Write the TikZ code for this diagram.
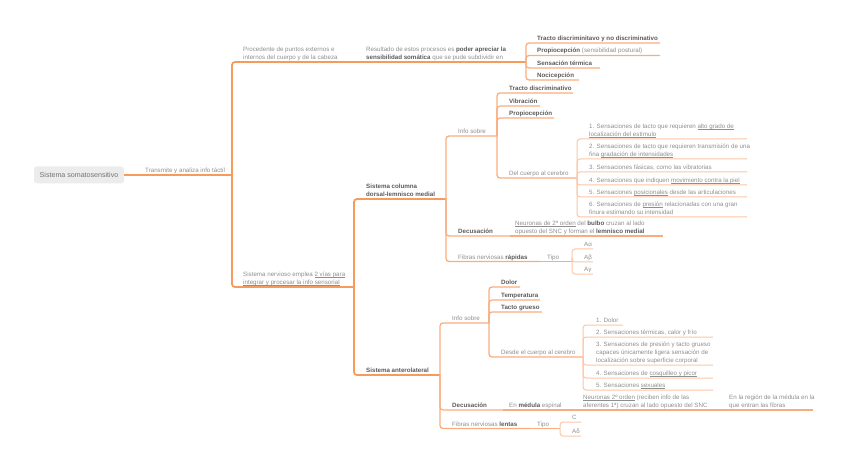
\documentclass[tikz,border=0pt]{standalone}
\usepackage{fontspec}
\setmainfont{Liberation Sans}
\definecolor{cA}{HTML}{F79A5E}
\definecolor{cB}{HTML}{F9AD7E}
\definecolor{cC}{HTML}{FBC6A6}
\definecolor{tnorm}{HTML}{8E8E8E}
\definecolor{tbold}{HTML}{5A5A5A}
\definecolor{rootfill}{HTML}{ECECEC}
\newcommand{\mlines}[1]{\begin{tabular}[b]{@{}l@{}}#1\end{tabular}}
\newcommand{\bt}[1]{{\bfseries\color{tbold}#1}}
\newsavebox{\ulinebox}
\newcommand{\uln}[1]{\sbox{\ulinebox}{#1}\rlap{\rule[-0.9pt]{\wd\ulinebox}{0.35pt}}\usebox{\ulinebox}}
\tikzset{
  txt/.style={anchor=base west, inner sep=0pt, text=tnorm, font=\fontsize{6.2}{8}\selectfont},
  rootbox/.style={fill=rootfill, rounded corners=3pt, minimum width=90pt, minimum height=17pt, inner sep=0pt, text=tbold!85, font=\fontsize{7.1}{9}\selectfont},
  lA/.style={draw=cA, line width=1.8pt, rounded corners=3pt},
  lB/.style={draw=cB, line width=1.3pt, rounded corners=3pt},
  lC/.style={draw=cC, line width=1pt, rounded corners=3pt}
}
\begin{document}
\begin{tikzpicture}[x=1pt,y=-1pt]
\useasboundingbox (0,0) rectangle (848,470);
% ---------- underline end coordinates ----------
\coordinate (e-trans) at (232,175);
\coordinate (e-proc) at (360,62);
\coordinate (e-res) at (526,62);
\coordinate (e-r1) at (660,43);
\coordinate (e-r2) at (660,55.5);
\coordinate (e-r3) at (600,68);
\coordinate (e-r4) at (579,80);
\coordinate (e-sis) at (354,287);
\coordinate (e-col) at (446,199);
\coordinate (e-ant) at (440,375);
\coordinate (e-i1) at (497,136);
\coordinate (e-d1) at (510,236);
\coordinate (e-n1) at (663,236);
\coordinate (e-f1) at (540,261.5);
\coordinate (e-t1) at (572,261.5);
\coordinate (e-a1) at (573,93);
\coordinate (e-a2) at (540,106);
\coordinate (e-a3) at (554,118);
\coordinate (e-a4) at (577,178);
\coordinate (e-b1) at (747,139);
\coordinate (e-b2) at (747,159);
\coordinate (e-b3) at (747,172);
\coordinate (e-b4) at (747,185);
\coordinate (e-b5) at (747,197);
\coordinate (e-b6) at (747,217);
\coordinate (e-g1) at (593,249);
\coordinate (e-g2) at (593,262);
\coordinate (e-g3) at (593,274);
\coordinate (e-i2) at (489,323);
\coordinate (e-d2) at (503,410);
\coordinate (e-m) at (576,410);
\coordinate (e-n2) at (720,410);
\coordinate (e-reg) at (813,410);
\coordinate (e-f2) at (530,428.5);
\coordinate (e-t2) at (560,428.5);
\coordinate (e-p1) at (520,287);
\coordinate (e-p2) at (540,300);
\coordinate (e-p3) at (542,312);
\coordinate (e-p4) at (583,357);
\coordinate (e-c1) at (623,325);
\coordinate (e-c2) at (713,337);
\coordinate (e-c3) at (713,365);
\coordinate (e-c4) at (713,378);
\coordinate (e-c5) at (713,390);
\coordinate (e-k1) at (581,422);
\coordinate (e-k2) at (581,436);
% ---------- root ----------
\node[rootbox] (root) at (79,175) {Sistema somatosensitivo};
% ---------- connectors ----------
\draw[lA] (root.east) -- (e-trans);
\draw[lA] (e-trans) |- (e-proc);
\draw[lA] (e-trans) |- (e-sis);
\draw[lA] (e-proc) -- (e-res);
\foreach \k in {r1,r2,r3,r4} \draw[lB] (e-res) |- (e-\k);
\draw[lA] (e-sis) |- (e-col);
\draw[lA] (e-sis) |- (e-ant);
\foreach \k in {i1,d1,f1} \draw[lB] (e-col) |- (e-\k);
\draw[lB] (e-d1) -- (e-n1);
\draw[lB] (e-f1) -- (e-t1);
\foreach \k in {a1,a2,a3,a4} \draw[lB] (e-i1) |- (e-\k);
\foreach \k in {b1,b2,b3,b4,b5,b6} \draw[lC] (e-a4) |- (e-\k);
\foreach \k in {g1,g2,g3} \draw[lC] (e-t1) |- (e-\k);
\foreach \k in {i2,d2,f2} \draw[lB] (e-ant) |- (e-\k);
\draw[lB] (e-d2) -- (e-m);
\draw[lB] (e-m) -- (e-n2);
\draw[lB] (e-n2) -- (e-reg);
\draw[lB] (e-f2) -- (e-t2);
\foreach \k in {p1,p2,p3,p4} \draw[lB] (e-i2) |- (e-\k);
\foreach \k in {c1,c2,c3,c4,c5} \draw[lC] (e-p4) |- (e-\k);
\foreach \k in {k1,k2} \draw[lC] (e-t2) |- (e-\k);
% ---------- texts ----------
\node[txt] (trans) at (145,172.5) {\mlines{Transmite y analiza info táctil}};
\node[txt] (proc) at (243,59.5) {\mlines{Procedente de puntos externos e\\internos del cuerpo y de la cabeza}};
\node[txt] (res) at (366,59.5) {\mlines{Resultado de estos procesos es \bt{poder apreciar la}\\\bt{sensibilidad somática} que se pude subdividir en}};
\node[txt] (r1) at (537,40.5) {\mlines{\bt{Tracto discriminitavo y no discriminativo}}};
\node[txt] (r2) at (537,53) {\mlines{\bt{Propiocepción} (sensibilidad postural)}};
\node[txt] (r3) at (537,65.5) {\mlines{\bt{Sensación térmica}}};
\node[txt] (r4) at (537,77.5) {\mlines{\bt{Nocicepción}}};
\node[txt] (sis) at (243,284.5) {\mlines{Sistema nervioso emplea \uln{2 vías para}\\\uln{integrar y procesar la info sensorial}}};
\node[txt] (col) at (366,196.5) {\mlines{\bt{Sistema columna}\\\bt{dorsal-lemnisco medial}}};
\node[txt] (ant) at (366,372.5) {\mlines{\bt{Sistema anterolateral}}};
\node[txt] (i1) at (458,133.5) {\mlines{Info sobre}};
\node[txt] (d1) at (458,233.5) {\mlines{\bt{Decusación}}};
\node[txt] (n1) at (515,233.5) {\mlines{\uln{Neuronas de 2º orden} del \bt{bulbo} cruzan al lado\\opuesto del SNC y forman el \bt{lemnisco medial}}};
\node[txt] (f1) at (458,259) {\mlines{Fibras nerviosas \bt{rápidas}}};
\node[txt] (t1) at (547,259) {\mlines{Tipo}};
\node[txt] (a1) at (509,90.5) {\mlines{\bt{Tracto discriminativo}}};
\node[txt] (a2) at (509,103.5) {\mlines{\bt{Vibración}}};
\node[txt] (a3) at (509,115.5) {\mlines{\bt{Propiocepción}}};
\node[txt] (a4) at (509,175.5) {\mlines{Del cuerpo al cerebro}};
\node[txt] (b1) at (589,136.5) {\mlines{1. Sensaciones de tacto que requieren \uln{alto grado de}\\\uln{localización del estímulo}}};
\node[txt] (b2) at (589,156.5) {\mlines{2. Sensaciones de tacto que requieren transmisión de una\\fina \uln{gradación de intensidades}}};
\node[txt] (b3) at (589,169.5) {\mlines{3. Sensaciones fásicas, como las vibratorias}};
\node[txt] (b4) at (589,182.5) {\mlines{4. Sensaciones que indiquen \uln{movimiento contra la piel}}};
\node[txt] (b5) at (589,194.5) {\mlines{5. Sensaciones \uln{posicionales} desde las articulaciones}};
\node[txt] (b6) at (589,214.5) {\mlines{6. Sensaciones de \uln{presión} relacionadas con una gran\\finura estimando su intensidad}};
\node[txt] (g1) at (584,246.5) {\mlines{Aα}};
\node[txt] (g2) at (584,259.5) {\mlines{Aβ}};
\node[txt] (g3) at (584,271.5) {\mlines{Aγ}};
\node[txt] (i2) at (452,320.5) {\mlines{Info sobre}};
\node[txt] (d2) at (452,407.5) {\mlines{\bt{Decusación}}};
\node[txt] (m) at (509,407.5) {\mlines{En \bt{médula} espinal}};
\node[txt] (n2) at (583,407.5) {\mlines{\uln{Neuronas 2º orden} (reciben info de las\\aferentes 1ª) cruzan al lado opuesto del SNC}};
\node[txt] (reg) at (729,407.5) {\mlines{En la región de la médula en la\\que entran las fibras}};
\node[txt] (f2) at (452,426) {\mlines{Fibras nerviosas \bt{lentas}}};
\node[txt] (t2) at (537,426) {\mlines{Tipo}};
\node[txt] (p1) at (501,284.5) {\mlines{\bt{Dolor}}};
\node[txt] (p2) at (501,297.5) {\mlines{\bt{Temperatura}}};
\node[txt] (p3) at (501,309.5) {\mlines{\bt{Tacto grueso}}};
\node[txt] (p4) at (501,354.5) {\mlines{Desde el cuerpo al cerebro}};
\node[txt] (c1) at (596,322.5) {\mlines{1. Dolor}};
\node[txt] (c2) at (596,334.5) {\mlines{2. Sensaciones térmicas, calor y frío}};
\node[txt] (c3) at (596,362.5) {\mlines{3. Sensaciones de presión y tacto grueso\\capaces únicamente ligera sensación de\\localización sobre superficie corporal}};
\node[txt] (c4) at (596,375.5) {\mlines{4. Sensaciones de \uln{cosquilleo y picor}}};
\node[txt] (c5) at (596,387.5) {\mlines{5. Sensaciones \uln{sexuales}}};
\node[txt] (k1) at (572,419.5) {\mlines{C}};
\node[txt] (k2) at (572,433.5) {\mlines{Aδ}};
\end{tikzpicture}
\end{document}
